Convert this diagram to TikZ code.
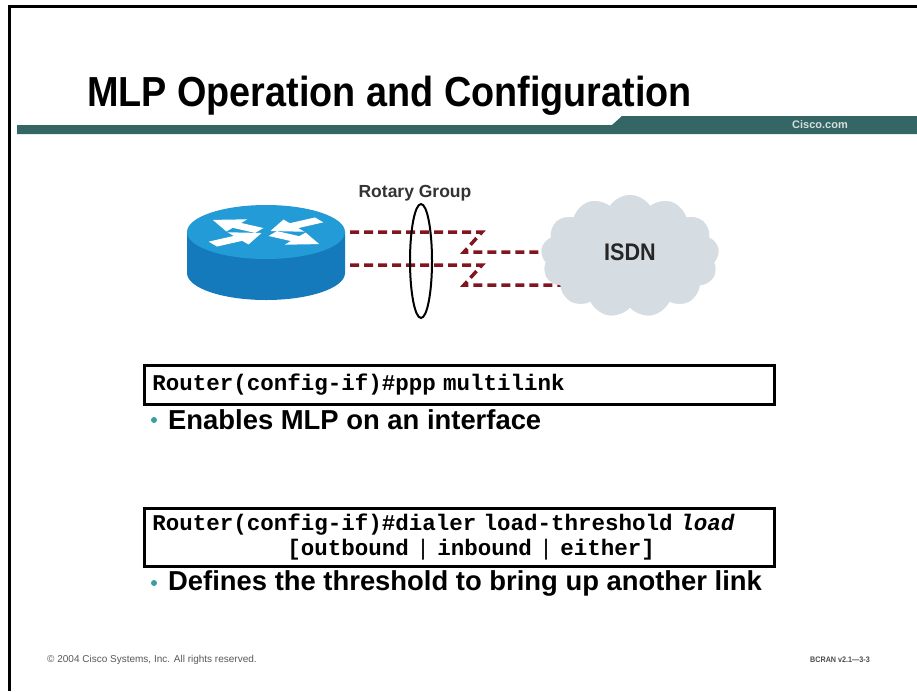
\documentclass[tikz,border=0pt]{standalone}
\usepackage{fontspec}
\setmainfont{Liberation Sans}
\newfontfamily\narrowsans[FakeStretch=0.9]{Liberation Sans}
\newfontfamily\cmdfont{Liberation Mono}
\usetikzlibrary{shapes.geometric,shapes.symbols,calc}

\definecolor{bandteal}{RGB}{51,102,100}
\definecolor{dotteal}{RGB}{60,158,158}
\definecolor{routertop}{RGB}{35,155,215}
\definecolor{routerside}{RGB}{20,122,188}
\definecolor{linkred}{RGB}{130,22,32}
\definecolor{cloudgray}{RGB}{214,221,226}
\definecolor{ciscotext}{RGB}{214,224,224}

\tikzset{
  cmdbox/.style={draw=black, line width=2.5pt, anchor=north west,
    inner xsep=8pt, inner ysep=0pt, text width=614pt, align=left,
    font=\cmdfont\bfseries\fontsize{22.5}{25}\selectfont},
  bullettext/.style={anchor=west, inner sep=0pt,
    font=\bfseries\fontsize{27.4}{27.4}\selectfont},
  bulletdot/.style={circle, fill=dotteal, inner sep=0pt, minimum size=6pt},
  isdnlink/.style={draw=linkred, line width=3.5pt, dash pattern=on 9pt off 5pt},
  arrowshape/.style={fill=white},
  isdncloud/.style={cloud, cloud puffs=13, cloud puff arc=115, aspect=1.5,
    fill=cloudgray, minimum width=178pt, minimum height=122pt, inner sep=0pt}
}

\begin{document}
\begin{tikzpicture}[x=1pt,y=-1pt]
\useasboundingbox (0,0) rectangle (917,691);
\fill[white] (0,0) rectangle (917,691);

% slide frame
\draw[line width=3pt] (9.5,691) -- (9.5,6.5) -- (917,6.5);

% title and header band
\node[anchor=base west, inner sep=0pt,
  font=\narrowsans\bfseries\fontsize{42}{42}\selectfont] (title) at (87,106)
  {MLP Operation and Configuration};
\fill[bandteal] (17,125) -- (612,125) -- (622,116) -- (917,116) -- (917,134) -- (17,134) -- cycle;
\node[text=ciscotext, font=\bfseries\fontsize{11}{11}\selectfont, inner sep=0pt]
  (cisco) at (820,125) {Cisco.com};

% router icon
\fill[routerside] (187,232) -- (187,273)
  arc[start angle=180, end angle=0, x radius=79, y radius=27] -- (345,232) -- cycle;
\fill[routertop] (266,232) ellipse[x radius=79, y radius=27];
\begin{scope}[shift={(266,232)}, xscale=66, yscale=24]
  \foreach \a in {-32,148}
    \fill[arrowshape, rotate=\a] (0.12,0.12) -- (0.52,0.12) -- (0.52,0.3)
      -- (0.95,0) -- (0.52,-0.3) -- (0.52,-0.12) -- (0.12,-0.12) -- cycle;
  \foreach \a in {32,-148}
    \fill[arrowshape, rotate=\a] (0.95,0.12) -- (0.5,0.12) -- (0.5,0.3)
      -- (0.08,0) -- (0.5,-0.3) -- (0.5,-0.12) -- (0.95,-0.12) -- cycle;
\end{scope}
\node[inner sep=0pt, minimum width=158pt, minimum height=95pt] (router) at (266,252.5) {};

% ISDN cloud
\coordinate (k1) at (482,232);
\coordinate (k2) at (464,252);
\coordinate (k3) at (482,265);
\coordinate (k4) at (464,285);
\node[isdncloud] (cloud) at (630,256) {};

% the two B-channel links
\draw[isdnlink] ($(router.east)+(5,-20.5)$) -- (k1) -- (k2) -- (k2 -| cloud.west);
\draw[isdnlink] ($(router.east)+(5,12.5)$) -- (k3) -- (k4) -- ($(k4 -| cloud.west)+(22,0)$);

\node[isdncloud] at (cloud.center) {};
\node[font=\narrowsans\bfseries\fontsize{24}{24}\selectfont, text=black!85, inner sep=0pt]
  (isdn) at (630,252) {ISDN};

% rotary group
\node[ellipse, draw=black, line width=2pt, minimum width=22pt, minimum height=114pt,
  inner sep=0pt] (rotary) at (421,261) {};
\node[font=\bfseries\fontsize{17.5}{17.5}\selectfont, text=black!80, inner sep=0pt]
  (rotarylabel) at (415,193) {Rotary Group};

% first command
\node[cmdbox, minimum height=39pt] (cmd1) at (143,364)
  {Router(config-if)\#ppp multilink};
\node[bulletdot] (dot1) at (154,420) {};
\node[bullettext] (txt1) at (168,420) {Enables MLP on an interface};

% second command
\node[cmdbox, minimum height=58pt] (cmd2) at (143,507)
  {Router(config-if)\#dialer load-threshold \textit{load}\\
  \hspace*{6em}[outbound {\mdseries|} inbound {\mdseries|} either]};
\node[bulletdot] (dot2) at (154,583) {};
\node[bullettext] (txt2) at (168,583) {Defines the threshold to bring up another link};

% footer
\node[anchor=west, inner sep=0pt, text=black!65, font=\fontsize{10}{10}\selectfont]
  (copyright) at (47,660) {© 2004 Cisco Systems, Inc. All rights reserved.};
\node[anchor=east, inner sep=0pt, text=black!70,
  font=\narrowsans\bfseries\fontsize{8}{8}\selectfont] (code) at (870,660) {BCRAN v2.1—3-3};
\end{tikzpicture}
\end{document}
